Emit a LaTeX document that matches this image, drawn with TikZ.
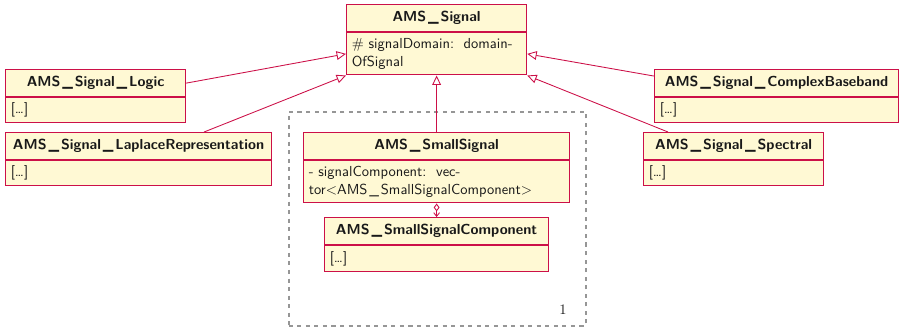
\documentclass[tikz,border=0pt]{standalone}
\usetikzlibrary{arrows.meta,calc}

\definecolor{umlline}{RGB}{204,16,72}
\definecolor{umlfill}{RGB}{255,249,212}
\definecolor{pkgline}{RGB}{150,150,150}
\definecolor{umltext}{RGB}{25,25,25}

% spaced underscore used in the class names
\newcommand\usc{\kern1.3pt\_\kern1.3pt}

\tikzset{
  every node/.style={font=\sffamily, text=umltext},
  ctitle/.style={draw=umlline, fill=umlfill, line width=0.85pt, inner sep=0pt,
    minimum height=27*0.69pt, font=\sffamily\bfseries},
  cbody/.style={draw=umlline, fill=umlfill, line width=0.85pt, inner sep=0pt},
  ctext/.style={inner sep=0pt, align=left, anchor=west},
  gen/.style={draw=umlline, line width=0.6pt,
    -{Triangle[open, length=6.5pt, width=6pt, line width=0.6pt]}},
  agg/.style={draw=umlline, line width=0.6pt,
    {Diamond[open, length=5.5pt, width=4pt, line width=0.6pt]}-{Straight Barb[length=2.5pt, width=4pt, line width=0.6pt]}},
  pkg/.style={draw=pkgline, line width=1.7pt, dash pattern=on 2.8pt off 3.1pt,
    inner sep=0pt},
}

% class box: name, x, y, width, title, body text, body height (all in px units)
\newcommand\umlclass[7]{%
  \node[ctitle, minimum width=#4*0.69pt, anchor=north west] (#1) at (#2,#3) {#5};
  \node[cbody, minimum width=#4*0.69pt, minimum height=#7*0.69pt,
    anchor=north west] (#1b) at (#1.south west) {};
  \node[ctext] (#1t) at ([xshift=5.5*0.69pt]#1b.west) {#6};
}

\begin{document}
\begin{tikzpicture}[x=0.69pt, y=-0.69pt]
  \useasboundingbox (0,0) rectangle (899,328);

  % package frame
  \node[pkg, minimum width=297*0.69pt, minimum height=214*0.69pt,
    anchor=north west] (pkg) at (287.5,110.5) {};
  \node[font=\rmfamily] (pkgn) at (563,310) {1};

  % classes
  \umlclass{sig}{346}{4}{180}{AMS\usc Signal}{\# signalDomain:\ \ domain-\\OfSignal}{42}
  \umlclass{log}{5}{69}{180}{AMS\usc Signal\usc Logic}{[\ldots]}{25}
  \umlclass{lap}{5}{132}{266}{AMS\usc Signal\usc LaplaceRepresentation}{[\ldots]}{25}
  \umlclass{ss}{303}{132}{266}{AMS\usc SmallSignal}{- signalComponent:\ \ vec-\\tor<AMS\usc SmallSignalComponent>}{42}
  \umlclass{cmp}{324}{217}{224}{AMS\usc SmallSignalComponent}{[\ldots]}{26}
  \umlclass{cb}{654}{69}{244}{AMS\usc Signal\usc ComplexBaseband}{[\ldots]}{25}
  \umlclass{sp}{643}{132}{180}{AMS\usc Signal\usc Spectral}{[\ldots]}{25}

  % generalisations
  \draw[gen] (log.east) -- (sigb.west);
  \draw[gen] ($(lap.north west)!0.745!(lap.north east)$) -- (sigb.south west);
  \draw[gen] (ss.north) -- (sigb.south);
  \draw[gen] ($(cb.north west)!0.25!(cb.south west)$) -- (sigb.east);
  \draw[gen] ([xshift=25*0.69pt]sp.north west) -- (sigb.south east);

  % aggregation
  \draw[agg] (ssb.south) -- (cmp.north);
\end{tikzpicture}
\end{document}
